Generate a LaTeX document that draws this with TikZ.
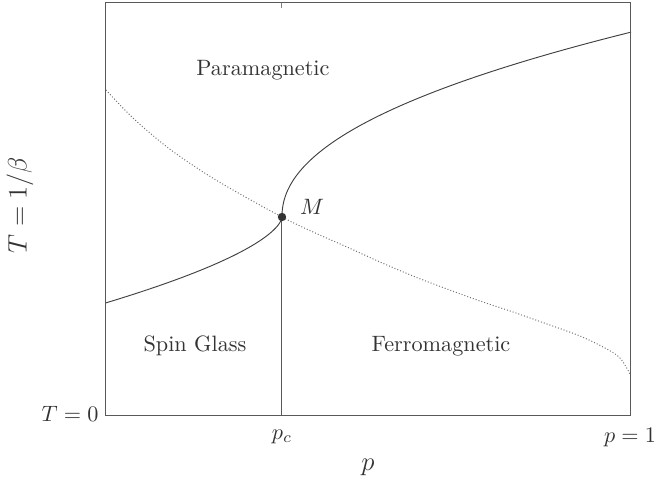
\documentclass[tikz,border=0pt]{standalone}
\begin{document}
\begin{tikzpicture}[x=0.45pt,y=-0.45pt,
  ink/.style={draw=black!65,line width=0.45pt},
  curve/.style={draw=black!75,line width=0.42pt},
  sepline/.style={draw=black!55,line width=0.45pt,dash pattern=on 0.45pt off 0.9pt},
  lab/.style={text=black!80,inner sep=0pt},
  axlab/.style={text=black!80,inner sep=0pt,font=\large}]
\useasboundingbox (0,0) rectangle (656,483);
% frame
\coordinate (BL) at (106,415.5);
\coordinate (TR) at (631,2.5);
\coordinate (M) at (282,217);
\coordinate (Pc) at (282,415.5);
\coordinate (TopTick) at (282,2.5);
\coordinate (TopTickEnd) at (282,7.5);
% curves
\draw[curve] plot[domain=0.01:15.67,samples=200] ({282+(\x)^2.128},{217-11.8*\x});
\draw[curve] plot[domain=0.01:86,samples=200] ({282-(\x/3.48)^1.613},{217+\x});
\draw[sepline] plot[smooth,tension=0.55] coordinates {(106,90) (133,118) (167,147) (200,170) (233,190) (282,217) (313,232) (347,247) (380,262) (413,276) (447,289) (480,301) (513,312) (547,324) (580,336) (605,348) (620,358) (630,374)};
\draw[ink] (M) -- (Pc);
\draw[ink] (BL) rectangle (TR);
\draw[ink,black!50] (TopTick) -- (TopTickEnd);
\fill[black!80] (M) circle (4.2);
% labels
\node[lab] (para) at (263,70) {Paramagnetic};
\node[lab] (sg) at (195,346) {Spin Glass};
\node[lab] (ferro) at (441,346) {Ferromagnetic};
\node[lab] (Mlab) at (312,207) {$M$};
\node[lab] (pcl) at (282,437) {$p_c$};
\node[lab] (p1) at (630,437) {$p=1$};
\node[lab,anchor=east] (T0) at (99,414) {$T=0$};
\node[axlab] (xl) at (368,467) {$p$};
\node[axlab,rotate=90] (yl) at (20,205) {$T=1/\beta$};
\end{tikzpicture}
\end{document}
